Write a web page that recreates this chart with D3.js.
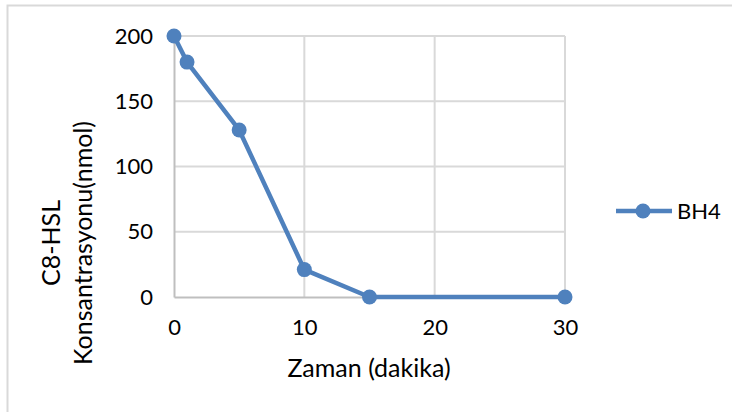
<!DOCTYPE html>
<html>
<head>
<meta charset="utf-8">
<script src="https://cdn.jsdelivr.net/npm/d3@7"></script>
<style>
  body { margin: 0; background: #fff; }
  text { font-family: Lato, "Open Sans", sans-serif; fill: #000; }
</style>
</head>
<body>
<div id="chart"></div>
<script>
// data
var times = [0, 1, 5, 10, 15, 30];
var bh4 = [200, 180, 128, 21, 0, 0];
var xTicks = [0, 10, 20, 30];
var yTicks = [0, 50, 100, 150, 200];
var seriesName = "BH4";
var xTitle = "Zaman (dakika)";
var yTitle = ["C8-HSL", "Konsantrasyonu(nmol)"];

var W = 732, H = 412;
var margin = { top: 36, right: 167, bottom: 115, left: 174 },
  width = W - margin.left - margin.right,
  height = H - margin.top - margin.bottom;

var blue = "#4f81bd";

var root = d3.select("#chart")
  .append("svg")
  .attr("width", W)
  .attr("height", H);

// outer chart frame
root.append("rect")
  .attr("x", 7.5).attr("y", 5.5)
  .attr("width", W + 10).attr("height", H + 10)
  .attr("fill", "none")
  .attr("stroke", "#d9d9d9")
  .attr("stroke-width", 2);

var svg = root.append("g")
  .attr("transform", "translate(" + margin.left + "," + margin.top + ")");

var x = d3.scaleLinear().domain([0, 30]).range([0, width]);
var y = d3.scaleLinear().domain([0, 200]).range([height, 0]);

// gridlines
svg.append("g")
  .selectAll("line")
  .data(yTicks.filter(function (d) { return d > 0; }))
  .enter().append("line")
  .attr("x1", 0).attr("x2", width)
  .attr("y1", function (d) { return y(d); })
  .attr("y2", function (d) { return y(d); })
  .attr("stroke", "#d9d9d9").attr("stroke-width", 2);

svg.append("g")
  .selectAll("line")
  .data(xTicks.filter(function (d) { return d > 0; }))
  .enter().append("line")
  .attr("x1", function (d) { return x(d); })
  .attr("x2", function (d) { return x(d); })
  .attr("y1", 0).attr("y2", height)
  .attr("stroke", "#d9d9d9").attr("stroke-width", 2);

// axes
var xAxis = svg.append("g")
  .attr("transform", "translate(0," + height + ")")
  .call(d3.axisBottom(x).tickValues(xTicks).tickSize(0).tickPadding(22));
xAxis.select(".domain").attr("stroke", "#bfbfbf").attr("stroke-width", 2);
xAxis.selectAll("text").style("font-size", "22px").style("font-family", "Lato");

var yAxis = svg.append("g")
  .call(d3.axisLeft(y).tickValues(yTicks).tickSize(0).tickPadding(21));
yAxis.select(".domain").attr("stroke", "#bfbfbf").attr("stroke-width", 2);
yAxis.selectAll("text").style("font-size", "22px").style("font-family", "Lato");

// line + markers
var line = d3.line()
  .x(function (d, i) { return x(times[i]); })
  .y(function (d) { return y(d); });

svg.append("path")
  .datum(bh4)
  .attr("d", line)
  .attr("fill", "none")
  .attr("stroke", blue)
  .attr("stroke-width", 4.5)
  .attr("stroke-linejoin", "round");

svg.selectAll(".dot")
  .data(bh4)
  .enter().append("circle")
  .attr("class", "dot")
  .attr("cx", function (d, i) { return x(times[i]); })
  .attr("cy", function (d) { return y(d); })
  .attr("r", 7.5)
  .attr("fill", blue);

// axis titles
root.append("text")
  .attr("x", 369).attr("y", 377)
  .attr("text-anchor", "middle")
  .style("font-size", "25px")
  .text(xTitle);

var yt = root.append("text")
  .attr("transform", "translate(60,243) rotate(-90)")
  .attr("text-anchor", "middle")
  .style("font-size", "25px");
yt.append("tspan").attr("x", 0).attr("dy", 0).text(yTitle[0]);
yt.append("tspan").attr("x", 0).attr("dy", 32).text(yTitle[1]);

// legend
var lg = root.append("g").attr("transform", "translate(616,211)");
lg.append("line")
  .attr("x1", 0).attr("x2", 56)
  .attr("stroke", blue).attr("stroke-width", 4.5);
lg.append("circle").attr("cx", 27).attr("r", 7.5).attr("fill", blue);
lg.append("text")
  .attr("x", 61).attr("dy", "0.35em")
  .style("font-size", "22px")
  .text(seriesName);
</script>
</body>
</html>
